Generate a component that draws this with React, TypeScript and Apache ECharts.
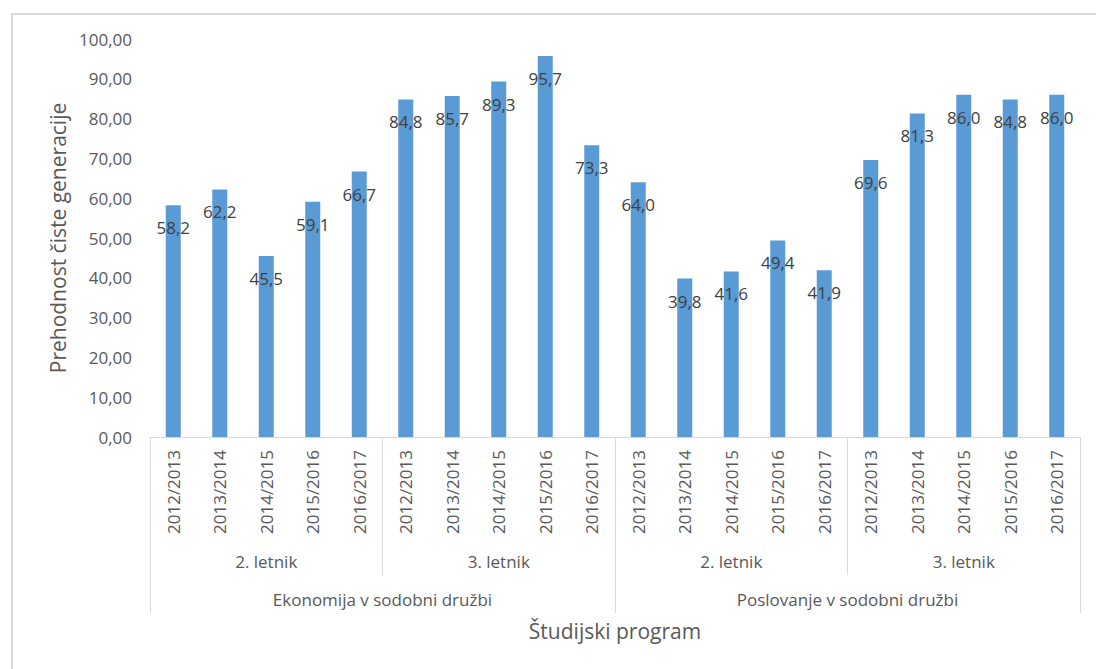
import React, { useEffect, useRef } from "react";
import * as echarts from "echarts";

const years: string[] = [
  "2012/2013", "2013/2014", "2014/2015", "2015/2016", "2016/2017",
  "2012/2013", "2013/2014", "2014/2015", "2015/2016", "2016/2017",
  "2012/2013", "2013/2014", "2014/2015", "2015/2016", "2016/2017",
  "2012/2013", "2013/2014", "2014/2015", "2015/2016", "2016/2017",
];
const letnikGroups: string[] = ["2. letnik", "3. letnik", "2. letnik", "3. letnik"];
const programs: string[] = ["Ekonomija v sodobni družbi", "Poslovanje v sodobni družbi"];
const values: number[] = [
  58.2, 62.2, 45.5, 59.1, 66.7,
  84.8, 85.7, 89.3, 95.7, 73.3,
  64.0, 39.8, 41.6, 49.4, 41.9,
  69.6, 81.3, 86.0, 84.8, 86.0,
];
const yTitle = "Prehodnost čiste generacije";
const xTitle = "Študijski program";

const FONT = "'Open Sans', sans-serif";
const AXIS_COLOR = "#595959";
const LINE_COLOR = "#d9d9d9";

export default function App() {
  const ref = useRef<HTMLDivElement>(null);
  useEffect(() => {
    if (!ref.current) return;
    const chart = echarts.init(ref.current, null, { renderer: "svg" });
    chart.setOption({
      animation: false,
      textStyle: { fontFamily: FONT },
      graphic: [
        {
          type: "rect",
          shape: { x: 12, y: 14, width: 1200, height: 800 },
          style: { fill: "none", stroke: LINE_COLOR, lineWidth: 2 },
          silent: true,
        },
      ],
      grid: { left: 150, right: 16, top: 39, bottom: 232, containLabel: false },
      xAxis: [
        {
          type: "category",
          data: years,
          position: "bottom",
          axisLine: { show: true, lineStyle: { color: LINE_COLOR, width: 1 } },
          axisTick: { show: false },
          axisLabel: {
            rotate: 90,
            margin: 13,
            fontSize: 17,
            color: AXIS_COLOR,
            fontFamily: FONT,
            interval: 0,
          },
        },
        {
          type: "category",
          data: letnikGroups,
          position: "bottom",
          axisLine: { show: false },
          axisTick: { show: true, length: 138, lineStyle: { color: LINE_COLOR } },
          axisLabel: {
            margin: 116,
            fontSize: 17,
            color: AXIS_COLOR,
            fontFamily: FONT,
            interval: 0,
          },
        },
        {
          type: "category",
          data: programs,
          position: "bottom",
          axisLine: { show: false },
          axisTick: { show: true, length: 176, lineStyle: { color: LINE_COLOR } },
          axisLabel: {
            margin: 154,
            fontSize: 17,
            color: AXIS_COLOR,
            fontFamily: FONT,
            interval: 0,
          },
          name: xTitle,
          nameLocation: "middle",
          nameGap: 183,
          nameTextStyle: { fontSize: 21, color: AXIS_COLOR, fontFamily: FONT },
        },
      ],
      yAxis: {
        type: "value",
        min: 0,
        max: 100,
        interval: 10,
        axisLine: { show: false },
        axisTick: { show: false },
        splitLine: { show: false },
        axisLabel: {
          margin: 18,
          fontSize: 17,
          color: AXIS_COLOR,
          fontFamily: FONT,
          formatter: (v: number) => v.toFixed(2).replace(".", ","),
        },
        name: yTitle,
        nameLocation: "middle",
        nameGap: 79,
        nameTextStyle: { fontSize: 21, color: AXIS_COLOR, fontFamily: FONT },
      },
      series: [
        {
          type: "bar",
          xAxisIndex: 0,
          data: values,
          barWidth: 15,
          itemStyle: { color: "#5B9BD5" },
          label: {
            show: true,
            position: "insideTop",
            distance: 14,
            fontSize: 17,
            color: "#404040",
            fontFamily: FONT,
            formatter: (p: any) => Number(p.value).toFixed(1).replace(".", ","),
          },
        },
      ],
    });
    return () => chart.dispose();
  }, []);
  return (
    <div
      ref={ref}
      style={{ position: "fixed", left: 0, top: 0, width: 1096, height: 669, background: "#fff" }}
    />
  );
}
